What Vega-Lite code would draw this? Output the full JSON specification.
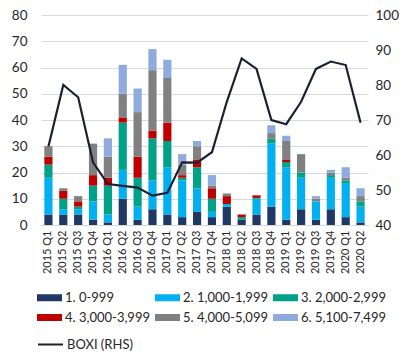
{
  "$schema": "https://vega.github.io/schema/vega-lite/v6.json",
  "width": 327,
  "height": 210,
  "autosize": {"type": "none"},
  "padding": {"left": 41, "top": 15, "right": 44, "bottom": 133},
  "config": {
    "view": {"stroke": null},
    "font": "Lato",
    "axis": {"labelFont": "Lato", "labelColor": "#262626", "titleFont": "Lato"},
    "legend": {"labelFont": "Lato", "labelFontSize": 13, "labelColor": "#262626"}
  },
  "datasets": {
    "bars": [
      {"q": "2015 Q1", "c": "1. 0-999", "v": 4}, {"q": "2015 Q1", "c": "2. 1,000-1,999", "v": 14}, {"q": "2015 Q1", "c": "3. 2,000-2,999", "v": 5}, {"q": "2015 Q1", "c": "4. 3,000-3,999", "v": 3}, {"q": "2015 Q1", "c": "5. 4,000-5,099", "v": 4},
      {"q": "2015 Q2", "c": "1. 0-999", "v": 4}, {"q": "2015 Q2", "c": "2. 1,000-1,999", "v": 2}, {"q": "2015 Q2", "c": "3. 2,000-2,999", "v": 4}, {"q": "2015 Q2", "c": "4. 3,000-3,999", "v": 3}, {"q": "2015 Q2", "c": "5. 4,000-5,099", "v": 1},
      {"q": "2015 Q3", "c": "1. 0-999", "v": 4}, {"q": "2015 Q3", "c": "2. 1,000-1,999", "v": 2}, {"q": "2015 Q3", "c": "3. 2,000-2,999", "v": 1}, {"q": "2015 Q3", "c": "4. 3,000-3,999", "v": 2}, {"q": "2015 Q3", "c": "5. 4,000-5,099", "v": 2},
      {"q": "2015 Q4", "c": "1. 0-999", "v": 2}, {"q": "2015 Q4", "c": "2. 1,000-1,999", "v": 7}, {"q": "2015 Q4", "c": "3. 2,000-2,999", "v": 6}, {"q": "2015 Q4", "c": "4. 3,000-3,999", "v": 4}, {"q": "2015 Q4", "c": "5. 4,000-5,099", "v": 12},
      {"q": "2016 Q1", "c": "1. 0-999", "v": 1}, {"q": "2016 Q1", "c": "2. 1,000-1,999", "v": 3}, {"q": "2016 Q1", "c": "3. 2,000-2,999", "v": 11}, {"q": "2016 Q1", "c": "4. 3,000-3,999", "v": 3}, {"q": "2016 Q1", "c": "5. 4,000-5,099", "v": 8}, {"q": "2016 Q1", "c": "6. 5,100-7,499", "v": 7},
      {"q": "2016 Q2", "c": "1. 0-999", "v": 10}, {"q": "2016 Q2", "c": "2. 1,000-1,999", "v": 11}, {"q": "2016 Q2", "c": "3. 2,000-2,999", "v": 18}, {"q": "2016 Q2", "c": "4. 3,000-3,999", "v": 2}, {"q": "2016 Q2", "c": "5. 4,000-5,099", "v": 9}, {"q": "2016 Q2", "c": "6. 5,100-7,499", "v": 11},
      {"q": "2016 Q3", "c": "1. 0-999", "v": 2}, {"q": "2016 Q3", "c": "2. 1,000-1,999", "v": 5}, {"q": "2016 Q3", "c": "3. 2,000-2,999", "v": 11}, {"q": "2016 Q3", "c": "4. 3,000-3,999", "v": 8}, {"q": "2016 Q3", "c": "5. 4,000-5,099", "v": 17}, {"q": "2016 Q3", "c": "6. 5,100-7,499", "v": 9},
      {"q": "2016 Q4", "c": "1. 0-999", "v": 6}, {"q": "2016 Q4", "c": "2. 1,000-1,999", "v": 11}, {"q": "2016 Q4", "c": "3. 2,000-2,999", "v": 16}, {"q": "2016 Q4", "c": "4. 3,000-3,999", "v": 3}, {"q": "2016 Q4", "c": "5. 4,000-5,099", "v": 23}, {"q": "2016 Q4", "c": "6. 5,100-7,499", "v": 8},
      {"q": "2017 Q1", "c": "1. 0-999", "v": 4}, {"q": "2017 Q1", "c": "2. 1,000-1,999", "v": 18}, {"q": "2017 Q1", "c": "3. 2,000-2,999", "v": 10}, {"q": "2017 Q1", "c": "4. 3,000-3,999", "v": 7}, {"q": "2017 Q1", "c": "5. 4,000-5,099", "v": 17}, {"q": "2017 Q1", "c": "6. 5,100-7,499", "v": 7},
      {"q": "2017 Q2", "c": "1. 0-999", "v": 3}, {"q": "2017 Q2", "c": "2. 1,000-1,999", "v": 14}, {"q": "2017 Q2", "c": "3. 2,000-2,999", "v": 1}, {"q": "2017 Q2", "c": "4. 3,000-3,999", "v": 1}, {"q": "2017 Q2", "c": "5. 4,000-5,099", "v": 4}, {"q": "2017 Q2", "c": "6. 5,100-7,499", "v": 4},
      {"q": "2017 Q3", "c": "1. 0-999", "v": 5}, {"q": "2017 Q3", "c": "2. 1,000-1,999", "v": 9}, {"q": "2017 Q3", "c": "3. 2,000-2,999", "v": 8}, {"q": "2017 Q3", "c": "4. 3,000-3,999", "v": 3}, {"q": "2017 Q3", "c": "5. 4,000-5,099", "v": 5}, {"q": "2017 Q3", "c": "6. 5,100-7,499", "v": 2},
      {"q": "2017 Q4", "c": "1. 0-999", "v": 3}, {"q": "2017 Q4", "c": "2. 1,000-1,999", "v": 2}, {"q": "2017 Q4", "c": "3. 2,000-2,999", "v": 5}, {"q": "2017 Q4", "c": "4. 3,000-3,999", "v": 4}, {"q": "2017 Q4", "c": "5. 4,000-5,099", "v": 1}, {"q": "2017 Q4", "c": "6. 5,100-7,499", "v": 4},
      {"q": "2018 Q1", "c": "1. 0-999", "v": 7}, {"q": "2018 Q1", "c": "2. 1,000-1,999", "v": 1}, {"q": "2018 Q1", "c": "4. 3,000-3,999", "v": 3}, {"q": "2018 Q1", "c": "5. 4,000-5,099", "v": 1},
      {"q": "2018 Q2", "c": "1. 0-999", "v": 2}, {"q": "2018 Q2", "c": "3. 2,000-2,999", "v": 1}, {"q": "2018 Q2", "c": "4. 3,000-3,999", "v": 1},
      {"q": "2018 Q3", "c": "1. 0-999", "v": 4}, {"q": "2018 Q3", "c": "2. 1,000-1,999", "v": 6}, {"q": "2018 Q3", "c": "3. 2,000-2,999", "v": 0.3}, {"q": "2018 Q3", "c": "4. 3,000-3,999", "v": 1},
      {"q": "2018 Q4", "c": "1. 0-999", "v": 7}, {"q": "2018 Q4", "c": "2. 1,000-1,999", "v": 24}, {"q": "2018 Q4", "c": "3. 2,000-2,999", "v": 2}, {"q": "2018 Q4", "c": "5. 4,000-5,099", "v": 2}, {"q": "2018 Q4", "c": "6. 5,100-7,499", "v": 3},
      {"q": "2019 Q1", "c": "1. 0-999", "v": 2}, {"q": "2019 Q1", "c": "2. 1,000-1,999", "v": 20}, {"q": "2019 Q1", "c": "3. 2,000-2,999", "v": 2}, {"q": "2019 Q1", "c": "4. 3,000-3,999", "v": 1}, {"q": "2019 Q1", "c": "5. 4,000-5,099", "v": 7}, {"q": "2019 Q1", "c": "6. 5,100-7,499", "v": 2},
      {"q": "2019 Q2", "c": "1. 0-999", "v": 6}, {"q": "2019 Q2", "c": "2. 1,000-1,999", "v": 12}, {"q": "2019 Q2", "c": "3. 2,000-2,999", "v": 2}, {"q": "2019 Q2", "c": "5. 4,000-5,099", "v": 7},
      {"q": "2019 Q3", "c": "1. 0-999", "v": 2}, {"q": "2019 Q3", "c": "2. 1,000-1,999", "v": 7}, {"q": "2019 Q3", "c": "5. 4,000-5,099", "v": 1}, {"q": "2019 Q3", "c": "6. 5,100-7,499", "v": 1},
      {"q": "2019 Q4", "c": "1. 0-999", "v": 6}, {"q": "2019 Q4", "c": "2. 1,000-1,999", "v": 12}, {"q": "2019 Q4", "c": "3. 2,000-2,999", "v": 1}, {"q": "2019 Q4", "c": "5. 4,000-5,099", "v": 1}, {"q": "2019 Q4", "c": "6. 5,100-7,499", "v": 1},
      {"q": "2020 Q1", "c": "1. 0-999", "v": 3}, {"q": "2020 Q1", "c": "2. 1,000-1,999", "v": 13}, {"q": "2020 Q1", "c": "3. 2,000-2,999", "v": 1}, {"q": "2020 Q1", "c": "5. 4,000-5,099", "v": 1}, {"q": "2020 Q1", "c": "6. 5,100-7,499", "v": 4},
      {"q": "2020 Q2", "c": "1. 0-999", "v": 1}, {"q": "2020 Q2", "c": "2. 1,000-1,999", "v": 6}, {"q": "2020 Q2", "c": "3. 2,000-2,999", "v": 2}, {"q": "2020 Q2", "c": "5. 4,000-5,099", "v": 2}, {"q": "2020 Q2", "c": "6. 5,100-7,499", "v": 3}
    ],
    "line": [
      {"q": "2015 Q1", "s": "BOXI (RHS)", "b": 62.4}, {"q": "2015 Q2", "s": "BOXI (RHS)", "b": 80}, {"q": "2015 Q3", "s": "BOXI (RHS)", "b": 76.5}, {"q": "2015 Q4", "s": "BOXI (RHS)", "b": 57.9},
      {"q": "2016 Q1", "s": "BOXI (RHS)", "b": 51.7}, {"q": "2016 Q2", "s": "BOXI (RHS)", "b": 51.2}, {"q": "2016 Q3", "s": "BOXI (RHS)", "b": 50.7}, {"q": "2016 Q4", "s": "BOXI (RHS)", "b": 48.4},
      {"q": "2017 Q1", "s": "BOXI (RHS)", "b": 49.2}, {"q": "2017 Q2", "s": "BOXI (RHS)", "b": 57.9}, {"q": "2017 Q3", "s": "BOXI (RHS)", "b": 57.8}, {"q": "2017 Q4", "s": "BOXI (RHS)", "b": 60.8},
      {"q": "2018 Q1", "s": "BOXI (RHS)", "b": 75.2}, {"q": "2018 Q2", "s": "BOXI (RHS)", "b": 87.6}, {"q": "2018 Q3", "s": "BOXI (RHS)", "b": 84.6}, {"q": "2018 Q4", "s": "BOXI (RHS)", "b": 70},
      {"q": "2019 Q1", "s": "BOXI (RHS)", "b": 68.8}, {"q": "2019 Q2", "s": "BOXI (RHS)", "b": 75.2}, {"q": "2019 Q3", "s": "BOXI (RHS)", "b": 84.6}, {"q": "2019 Q4", "s": "BOXI (RHS)", "b": 86.7},
      {"q": "2020 Q1", "s": "BOXI (RHS)", "b": 85.7}, {"q": "2020 Q2", "s": "BOXI (RHS)", "b": 69.2}
    ]
  },
  "layer": [
    {
      "data": {"name": "bars"},
      "mark": {"type": "bar"},
      "encoding": {
        "x": {
          "field": "q", "type": "ordinal", "sort": null,
          "scale": {"paddingInner": 0.45, "paddingOuter": 0.225},
          "axis": {"title": null, "labelAngle": -90, "labelFontSize": 11, "labelPadding": 5, "ticks": false, "domain": true, "domainColor": "#d9d9d9", "labelColor": "#262626"}
        },
        "y": {
          "aggregate": "sum", "field": "v", "type": "quantitative", "stack": "zero",
          "scale": {"domain": [0, 80], "nice": false},
          "axis": {"title": null, "values": [0, 10, 20, 30, 40, 50, 60, 70, 80], "labelFontSize": 13.5, "domain": false, "ticks": false, "labelPadding": 14, "gridColor": "#d9d9d9"}
        },
        "color": {
          "field": "c", "type": "nominal",
          "scale": {
            "domain": ["1. 0-999", "2. 1,000-1,999", "3. 2,000-2,999", "4. 3,000-3,999", "5. 4,000-5,099", "6. 5,100-7,499"],
            "range": ["#203864", "#00b0f0", "#00a189", "#c00000", "#808080", "#8faadc"]
          },
          "legend": {
            "title": null, "orient": "none", "legendX": -4, "legendY": 270, "columns": 3, "direction": "horizontal",
            "symbolType": "M-1,-0.28H1V0.28H-1Z", "symbolSize": 625, "symbolStrokeWidth": 0,
            "columnPadding": 5, "rowPadding": -2, "labelOffset": 3, "labelLimit": 200
          }
        },
        "order": {"field": "c", "sort": "ascending"}
      }
    },
    {
      "data": {"name": "line"},
      "mark": {"type": "line", "strokeWidth": 2.2},
      "encoding": {
        "x": {"field": "q", "type": "ordinal", "sort": null},
        "y": {
          "field": "b", "type": "quantitative",
          "scale": {"domain": [40, 100], "nice": false, "zero": false},
          "axis": {"title": null, "orient": "right", "values": [40, 50, 60, 70, 80, 90, 100], "labelFontSize": 13.5, "domain": false, "ticks": false, "grid": false, "labelPadding": 7}
        },
        "stroke": {
          "field": "s", "type": "nominal",
          "scale": {"domain": ["BOXI (RHS)"], "range": ["#1b2133"]},
          "legend": {
            "title": null, "orient": "none", "legendX": -4, "legendY": 316,
            "symbolType": "stroke", "symbolSize": 625, "symbolStrokeWidth": 2, "labelOffset": 3
          }
        }
      }
    }
  ],
  "resolve": {"scale": {"y": "independent"}}
}
